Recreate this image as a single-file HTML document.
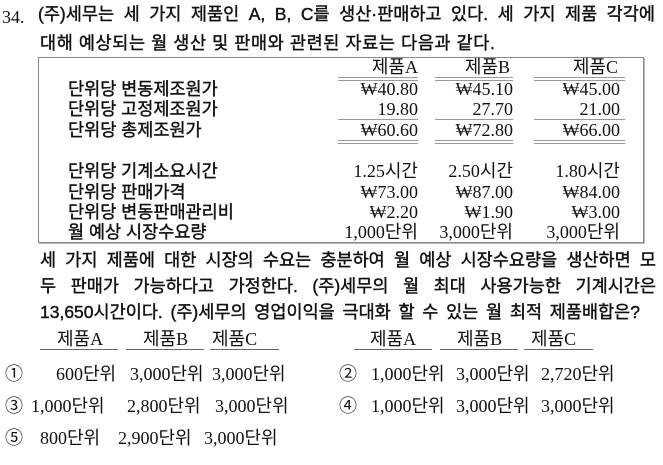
<!DOCTYPE html>
<html><head><meta charset="utf-8"><style>
body{margin:0;width:663px;height:465px;background:#fff;overflow:hidden;position:relative;font-family:"Liberation Serif","Noto Sans CJK KR",serif;color:#111}
.t{position:absolute;white-space:nowrap;font-size:18px;line-height:22px}
.k{font-family:"Liberation Sans","Noto Sans CJK KR",sans-serif;font-size:17.5px;-webkit-text-stroke:0.4px #111}
.j{text-align:justify;text-align-last:justify}
.r{text-align:right}
.ln{position:absolute;height:0;border-top:1px solid #999}
.dl{position:absolute;height:2px;border-top:1px solid #999;border-bottom:1px solid #999}
</style></head><body>
<div class="t" style="left:2px;top:6px;font-size:18px">34.</div>
<div class="t k j" style="left:38px;top:3px;width:617px">(주)세무는 세 가지 제품인 A, B, C를 생산·판매하고 있다. 세 가지 제품 각각에</div>
<div class="t k" style="left:40px;top:32px;letter-spacing:0.6px">대해 예상되는 월 생산 및 판매와 관련된 자료는 다음과 같다.</div>

<div style="position:absolute;left:38px;top:57px;width:604px;height:184px;border:1px solid #888;box-shadow:1px 1px 0 #bbb"></div>

<div class="t r" style="left:338px;width:80px;top:56px">제품A</div>
<div class="t r" style="left:435px;width:75px;top:56px">제품B</div>
<div class="t r" style="left:534px;width:84px;top:56px">제품C</div>
<div class="dl" style="left:338px;width:80px;top:77px"></div>
<div class="dl" style="left:435px;width:78px;top:77px"></div>
<div class="dl" style="left:534px;width:91px;top:77px"></div>

<div class="t k" style="left:68px;top:78px">단위당 변동제조원가</div>
<div class="t r" style="left:320px;width:98px;top:78px">₩40.80</div>
<div class="t r" style="left:420px;width:93px;top:78px">₩45.10</div>
<div class="t r" style="left:520px;width:100px;top:78px">₩45.00</div>

<div class="t k" style="left:68px;top:98px">단위당 고정제조원가</div>
<div class="t r" style="left:320px;width:98px;top:98px">19.80</div>
<div class="t r" style="left:420px;width:93px;top:98px">27.70</div>
<div class="t r" style="left:520px;width:100px;top:98px">21.00</div>
<div class="ln" style="left:338px;width:80px;top:119px"></div>
<div class="ln" style="left:435px;width:78px;top:119px"></div>
<div class="ln" style="left:534px;width:91px;top:119px"></div>

<div class="t k" style="left:68px;top:119px">단위당 총제조원가</div>
<div class="t r" style="left:320px;width:98px;top:119px">₩60.60</div>
<div class="t r" style="left:420px;width:93px;top:119px">₩72.80</div>
<div class="t r" style="left:520px;width:100px;top:119px">₩66.00</div>
<div class="dl" style="left:338px;width:80px;top:140px"></div>
<div class="dl" style="left:435px;width:78px;top:140px"></div>
<div class="dl" style="left:534px;width:91px;top:140px"></div>

<div class="t k" style="left:68px;top:160px">단위당 기계소요시간</div>
<div class="t r" style="left:320px;width:98px;top:160px">1.25시간</div>
<div class="t r" style="left:420px;width:93px;top:160px">2.50시간</div>
<div class="t r" style="left:520px;width:100px;top:160px">1.80시간</div>

<div class="t k" style="left:68px;top:181px">단위당 판매가격</div>
<div class="t r" style="left:320px;width:98px;top:181px">₩73.00</div>
<div class="t r" style="left:420px;width:93px;top:181px">₩87.00</div>
<div class="t r" style="left:520px;width:100px;top:181px">₩84.00</div>

<div class="t k" style="left:68px;top:201px">단위당 변동판매관리비</div>
<div class="t r" style="left:320px;width:98px;top:201px">₩2.20</div>
<div class="t r" style="left:420px;width:93px;top:201px">₩1.90</div>
<div class="t r" style="left:520px;width:100px;top:201px">₩3.00</div>

<div class="t k" style="left:68px;top:221px">월 예상 시장수요량</div>
<div class="t r" style="left:320px;width:98px;top:221px">1,000단위</div>
<div class="t r" style="left:420px;width:93px;top:221px">3,000단위</div>
<div class="t r" style="left:520px;width:100px;top:221px">3,000단위</div>

<div class="t k j" style="left:40px;top:249px;width:616px">세 가지 제품에 대한 시장의 수요는 충분하여 월 예상 시장수요량을 생산하면 모</div>
<div class="t k j" style="left:40px;top:275px;width:616px">두 판매가 가능하다고 가정한다. (주)세무의 월 최대 사용가능한 기계시간은</div>
<div class="t k j" style="left:40px;top:301px;width:600px">13,650시간이다. (주)세무의 영업이익을 극대화 할 수 있는 월 최적 제품배합은?</div>

<div class="t" style="left:57px;top:328px">제품A</div>
<div class="t" style="left:143px;top:328px">제품B</div>
<div class="t" style="left:212px;top:328px">제품C</div>
<div class="ln" style="left:40px;width:78px;top:349px;border-color:#666"></div>
<div class="ln" style="left:126px;width:78px;top:349px;border-color:#666"></div>
<div class="ln" style="left:210px;width:69px;top:349px;border-color:#666"></div>
<div class="t" style="left:370px;top:328px">제품A</div>
<div class="t" style="left:457px;top:328px">제품B</div>
<div class="t" style="left:531px;top:328px">제품C</div>
<div class="ln" style="left:354px;width:78px;top:349px;border-color:#666"></div>
<div class="ln" style="left:440px;width:78px;top:349px;border-color:#666"></div>
<div class="ln" style="left:524px;width:69px;top:349px;border-color:#666"></div>

<div class="t" style="left:5px;top:363px">①<span style="position:absolute;left:51px">600단위</span><span style="position:absolute;left:125px">3,000단위</span><span style="position:absolute;left:207px">3,000단위</span></div>
<div class="t" style="left:339px;top:363px">②<span style="position:absolute;left:32px">1,000단위</span><span style="position:absolute;left:117px">3,000단위</span><span style="position:absolute;left:202px">2,720단위</span></div>
<div class="t" style="left:5px;top:395px">③<span style="position:absolute;left:26px">1,000단위</span><span style="position:absolute;left:122px">2,800단위</span><span style="position:absolute;left:210px">3,000단위</span></div>
<div class="t" style="left:339px;top:395px">④<span style="position:absolute;left:32px">1,000단위</span><span style="position:absolute;left:117px">3,000단위</span><span style="position:absolute;left:202px">3,000단위</span></div>
<div class="t" style="left:5px;top:427px">⑤<span style="position:absolute;left:35px">800단위</span><span style="position:absolute;left:113px">2,900단위</span><span style="position:absolute;left:199px">3,000단위</span></div>
</body></html>
